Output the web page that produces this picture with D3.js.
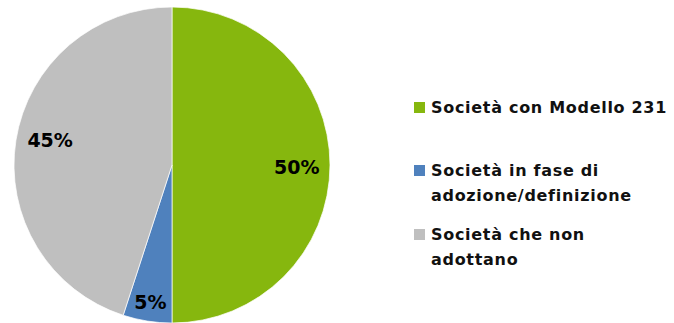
<!DOCTYPE html>
<html lang="it">
<head>
    <meta charset="UTF-8">
    <title>Modello 231</title>
    <script src="https://cdn.jsdelivr.net/npm/d3@7"></script>
    <style>
        html, body { margin: 0; padding: 0; background: #fff; }
        svg { display: block; font-family: "DejaVu Sans", sans-serif; }
        .pct { font-weight: bold; font-size: 19px; fill: #000; }
        .leg { font-weight: bold; font-size: 16px; letter-spacing: 0.7px; fill: #111; }
    </style>
</head>
<body>
    <svg id="chart" width="674" height="323"></svg>
    <script>
        // Dati del grafico
        const categories = ['Società con Modello 231', 'Società in fase di adozione/definizione', 'Società che non adottano'];
        const values = [50, 5, 45];
        const labels = ['50%', '5%', '45%'];
        const legendLines = [
            ['Società con Modello 231'],
            ['Società in fase di', 'adozione/definizione'],
            ['Società che non', 'adottano']
        ];
        const colors = ['#86B70E', '#4F81BD', '#BFBFBF'];

        const svg = d3.select('#chart');
        const cx = 172, cy = 165, r = 158;

        const pie = d3.pie().sort(null).value(d => d)(values);
        const arc = d3.arc().innerRadius(0).outerRadius(r);

        const g = svg.append('g').attr('transform', `translate(${cx},${cy})`);

        g.selectAll('path.slice')
            .data(pie)
            .enter()
            .append('path')
            .attr('class', 'slice')
            .attr('d', arc)
            .attr('fill', (d, i) => colors[i])
            .attr('stroke', '#fff')
            .attr('stroke-width', 0.7);

        // etichette percentuali: le fette piccole un po' più fuori
        g.selectAll('text.pct')
            .data(pie)
            .enter()
            .append('text')
            .attr('class', 'pct')
            .attr('text-anchor', 'middle')
            .attr('dy', '0.45em')
            .attr('transform', d => {
                const small = (d.endAngle - d.startAngle) < 0.5;
                const lr = small ? r * 0.87 : r * 0.79;
                // spostamento angolare leggero come nel grafico originale (fetta a sinistra)
                const shift = d.startAngle > Math.PI + 0.2 ? 0.06 : 0;
                const a = d3.arc().innerRadius(lr).outerRadius(lr);
                const p = a.centroid({ startAngle: d.startAngle + shift, endAngle: d.endAngle + shift });
                return `translate(${p})`;
            })
            .text((d, i) => labels[i]);

        // Legenda
        const legendTop = [102, 165, 229];
        const legend = svg.append('g').attr('transform', 'translate(414,0)');
        categories.forEach((c, i) => {
            const item = legend.append('g').attr('transform', `translate(0,${legendTop[i]})`);
            item.append('rect')
                .attr('width', 11).attr('height', 11)
                .attr('fill', colors[i]);
            legendLines[i].forEach((line, j) => {
                item.append('text')
                    .attr('class', 'leg')
                    .attr('x', 17)
                    .attr('y', 11 + j * 24.5)
                    .text(line);
            });
        });
    </script>
</body>
</html>
